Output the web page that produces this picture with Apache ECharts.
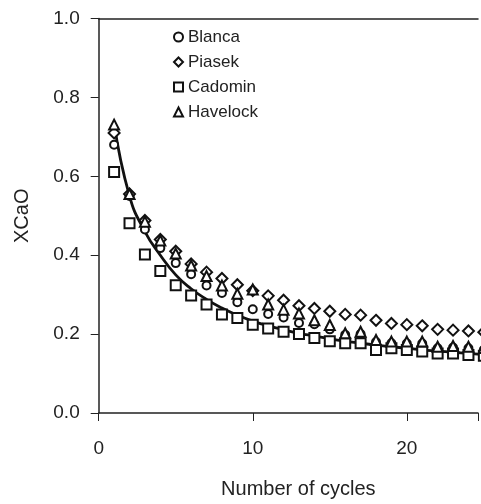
<!DOCTYPE html>
<html>
<head>
<meta charset="utf-8">
<script src="https://cdn.jsdelivr.net/npm/echarts@6/dist/echarts.min.js"></script>
<style>
html,body{margin:0;padding:0;background:#fff;}
#chart{width:481px;height:504px;}
</style>
</head>
<body>
<div id="chart"></div>
<script>
const cycles = [1,2,3,4,5,6,7,8,9,10,11,12,13,14,15,16,17,18,19,20,21,22,23,24,25];
const blanca   = [0.680,0.550,0.465,0.418,0.380,0.352,0.323,0.304,0.281,0.263,0.251,0.242,0.228,0.225,0.212,0.198,0.200,0.180,0.177,0.176,0.176,0.164,0.166,0.164,0.160];
const piasek   = [0.710,0.555,0.488,0.440,0.410,0.378,0.357,0.341,0.325,0.310,0.297,0.286,0.272,0.265,0.258,0.250,0.248,0.235,0.227,0.224,0.221,0.212,0.210,0.208,0.205];
const cadomin  = [0.611,0.481,0.402,0.360,0.324,0.298,0.275,0.250,0.241,0.224,0.214,0.206,0.200,0.190,0.182,0.177,0.177,0.160,0.164,0.160,0.156,0.151,0.151,0.147,0.145];
const havelock = [0.731,0.555,0.485,0.437,0.404,0.374,0.347,0.323,0.302,0.313,0.275,0.262,0.252,0.235,0.223,0.202,0.206,0.185,0.181,0.181,0.181,0.168,0.170,0.168,0.165];
const fitLine  = [0.735,0.550,0.460,0.400,0.350,0.315,0.288,0.266,0.248,0.233,0.221,0.211,0.202,0.195,0.188,0.182,0.177,0.172,0.168,0.164,0.160,0.157,0.154,0.151,0.148];
const xTicks = [0, 10, 20];
const yTicks = [0.0, 0.2, 0.4, 0.6, 0.8, 1.0];
const seriesNames = ['Blanca', 'Piasek', 'Cadomin', 'Havelock'];

const pair = arr => cycles.map((c, i) => [c, arr[i]]);
const font = 'Liberation Sans, Arial, sans-serif';
const axisCol = '#222';
const xMax = 24.62;

const chart = echarts.init(document.getElementById('chart'));
function sc(name, data, symbol, size) {
  return {
    name, type: 'scatter', data: pair(data), symbol, symbolSize: size,
    itemStyle: { color: '#111', borderWidth: 1.6, opacity: 1 },
    clip: false,
    z: 3
  };
}
chart.setOption({
  animation: false,
  backgroundColor: '#fff',
  grid: { left: 98.7, top: 18.5, bottom: 89, right: 0 },
  legend: {
    data: seriesNames.map(n => ({ name: n })),
    orient: 'vertical', left: 168, top: 23.5, itemWidth: 9, itemHeight: 9, itemGap: 8,
    textStyle: { fontFamily: font, fontSize: 17, color: '#222' }
  },
  xAxis: [{
    type: 'value', min: 0, max: xMax, interval: 10,
    name: 'Number of cycles', nameLocation: 'middle', nameGap: 66,
    nameTextStyle: { fontFamily: font, fontSize: 20, color: '#222', padding: [0, 0, 0, 20] },
    axisLine: { lineStyle: { color: axisCol, width: 1.5 } },
    axisTick: { show: true, length: 8, lineStyle: { color: axisCol } },
    axisLabel: { fontFamily: font, fontSize: 19, color: '#222', margin: 26,
      formatter: v => xTicks.includes(v) ? String(v) : '' },
    splitLine: { show: false }
  }, {
    type: 'value', min: 0, max: xMax, position: 'top',
    axisLine: { show: true, lineStyle: { color: axisCol, width: 1.5 } },
    axisTick: { show: false }, axisLabel: { show: false }, splitLine: { show: false }
  }],
  yAxis: {
    type: 'value', min: 0, max: 1, interval: 0.2,
    name: 'XCaO', nameLocation: 'middle', nameGap: 66,
    nameTextStyle: { fontFamily: font, fontSize: 20, color: '#222' },
    axisLine: { lineStyle: { color: axisCol, width: 1.5 } },
    axisTick: { show: true, length: 8, lineStyle: { color: axisCol } },
    axisLabel: { fontFamily: font, fontSize: 19, color: '#222', margin: 19,
      formatter: v => yTicks.find(t => Math.abs(t - v) < 1e-9) !== undefined ? v.toFixed(1) : '' },
    splitLine: { show: false }
  },
  series: [
    { name: 'fit', type: 'line', data: pair(fitLine), smooth: true, symbol: 'none',
      lineStyle: { color: '#111', width: 2.8 }, z: 2, clip: true },
    sc('Blanca', blanca, 'emptyCircle', 8),
    sc('Piasek', piasek, 'emptyDiamond', 11),
    sc('Cadomin', cadomin, 'emptyRect', 10),
    sc('Havelock', havelock, 'emptyTriangle', 10)
  ]
});
</script>
</body>
</html>
